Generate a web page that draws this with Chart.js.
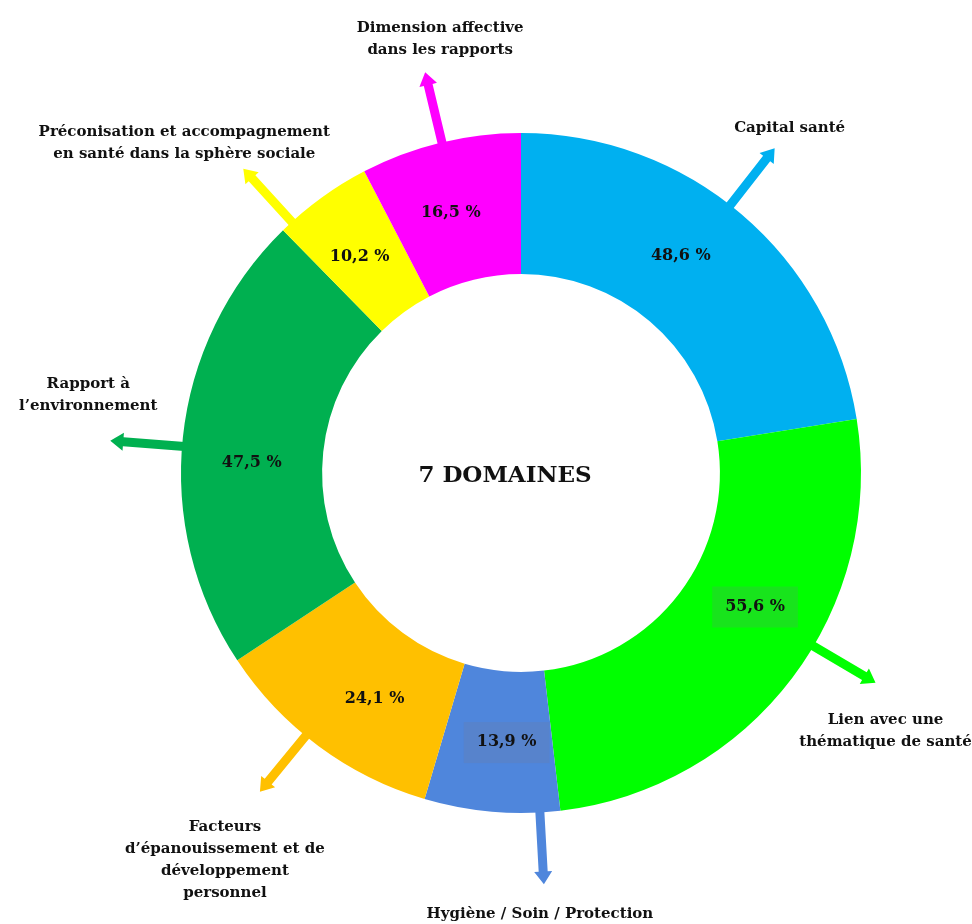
<!DOCTYPE html>
<html>
<head>
<meta charset="utf-8">
<script src="https://cdn.jsdelivr.net/npm/chart.js@4/dist/chart.umd.min.js"></script>
<style>
  html, body { margin: 0; padding: 0; background: #fff; }
  #wrap { width: 972px; height: 924px; }
</style>
</head>
<body>
<div id="wrap"><canvas id="chart"></canvas></div>
<script>
// ── DATA ─────────────────────────────────────────────

var domains = [
    ['Capital santé'],
    ['Lien avec une', 'thématique de santé'],
    ['Hygiène / Soin / Protection'],
    ['Facteurs', 'd\u2019épanouissement et de', 'développement', 'personnel'],
    ['Rapport à', 'l\u2019environnement'],
    ['Préconisation et accompagnement', 'en santé dans la sphère sociale'],
    ['Dimension affective', 'dans les rapports']
];
var shares     = [48.6, 55.6, 13.9, 24.1, 47.5, 10.2, 16.5];
var shareText  = ['48,6 %', '55,6 %', '13,9 %', '24,1 %', '47,5 %', '10,2 %', '16,5 %'];
var colors     = ['#00B0F0', '#00FF00', '#4F86DC', '#FFC000', '#00B050', '#FFFF00', '#FF00FF'];
var centerText = '7 DOMAINES';

// ── LAYOUT (arrow / percent spot along each slice, label offset from arrow tip) ──

var arrowAt    = [0.47, 0.43, 0.15, 0.57, 0.48, 0.12, 0.51];
var pctAt      = [0.45, 0.42, 0.42, 0.41, 0.45, 0.45, 0.45];
var labelShift = [[15, -20], [10, 37], [-4, 30], [-35, 35], [-22, -57], [-59, -37], [15, -44]];
var boxed      = [false, true, true, false, false, false, false];

var FONT = "'DejaVu Serif', serif";

// ── ARROWS + TEXT PLUGIN ─────────────────────────────

function drawArrow(c, x1, y1, x2, y2, color) {
    var ang = Math.atan2(y2 - y1, x2 - x1);
    var len = Math.hypot(x2 - x1, y2 - y1);
    c.save();
    c.translate(x1, y1);
    c.rotate(ang);
    c.fillStyle = color;
    c.beginPath();
    c.moveTo(0, -4.5);
    c.lineTo(len - 13, -4.5);
    c.lineTo(len - 13, -9);
    c.lineTo(len, 0);
    c.lineTo(len - 13, 9);
    c.lineTo(len - 13, 4.5);
    c.lineTo(0, 4.5);
    c.closePath();
    c.fill();
    c.restore();
}

var decorations = {
    id: 'decorations',
    beforeDatasetsDraw: function(chart) {
        var c = chart.ctx;
        var arcs = chart.getDatasetMeta(0).data;
        for (var i = 0; i < arcs.length; i++) {
            var a = arcs[i];
            var t = a.startAngle + (a.endAngle - a.startAngle) * arrowAt[i];
            var r0 = a.outerRadius - 12;
            var r1 = a.outerRadius + 72;
            drawArrow(c, a.x + r0 * Math.cos(t), a.y + r0 * Math.sin(t),
                         a.x + r1 * Math.cos(t), a.y + r1 * Math.sin(t), colors[i]);
        }
    },
    afterDatasetsDraw: function(chart) {
        var c = chart.ctx;
        var arcs = chart.getDatasetMeta(0).data;
        c.save();
        c.textAlign = 'center';
        c.textBaseline = 'middle';

        for (var i = 0; i < arcs.length; i++) {
            var a = arcs[i];

            // percentage inside the ring
            var mid = a.startAngle + (a.endAngle - a.startAngle) * pctAt[i];
            var rm = (a.innerRadius + a.outerRadius) / 2;
            var px = a.x + rm * Math.cos(mid);
            var py = a.y + rm * Math.sin(mid);
            c.font = 'bold 16px ' + FONT;
            if (boxed[i]) {
                var w = c.measureText(shareText[i]).width + 26;
                c.fillStyle = 'rgba(120,120,140,0.2)';
                c.fillRect(px - w / 2, py - 20, w, 41);
            }
            c.fillStyle = '#111';
            c.fillText(shareText[i], px, py);

            // domain name next to the arrow tip
            var t = a.startAngle + (a.endAngle - a.startAngle) * arrowAt[i];
            var r1 = a.outerRadius + 72;
            var tx = a.x + r1 * Math.cos(t) + labelShift[i][0];
            var ty = a.y + r1 * Math.sin(t) + labelShift[i][1];
            c.font = 'bold 15px ' + FONT;
            c.fillStyle = '#111';
            for (var j = 0; j < domains[i].length; j++) {
                c.fillText(domains[i][j], tx, ty + j * 22);
            }
        }

        // center title
        c.font = 'bold 23px ' + FONT;
        c.fillStyle = '#111';
        c.fillText(centerText, arcs[0].x - 16, arcs[0].y + 3);
        c.restore();
    }
};

// ── CHART ────────────────────────────────────────────

var ctx = document.getElementById('chart').getContext('2d');

var chart = new Chart(ctx, {
    type: 'doughnut',
    data: {
        labels: domains.map(function(d) { return d.join(' '); }),
        datasets: [{
            data: shares,
            backgroundColor: colors,
            borderWidth: 0
        }]
    },
    options: {
        responsive: true,
        maintainAspectRatio: false,
        animation: false,
        cutout: '58.5%',
        rotation: 0,
        layout: {
            padding: { left: 181, right: 111, top: 133, bottom: 111 }
        },
        plugins: {
            legend: { display: false },
            tooltip: { enabled: false }
        }
    },
    plugins: [decorations]
});
</script>
</body>
</html>
